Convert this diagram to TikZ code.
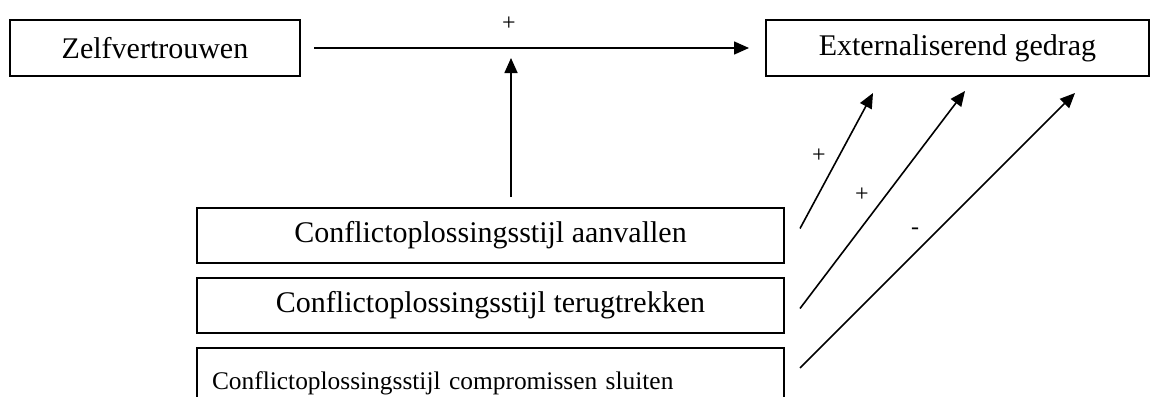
\documentclass[tikz,border=0pt]{standalone}
\usepackage{fontspec}
\setmainfont{Liberation Serif}
\usetikzlibrary{arrows.meta}
\newlength{\du}
\setlength{\du}{0.5pt}

\begin{document}
\begin{tikzpicture}[x=1\du,y=-1\du,
  blok/.style={draw, line width=2\du, inner sep=0pt, minimum height=55\du,
    font=\fontsize{15}{18}\selectfont},
  pijl/.style={line width=1.6\du, -{Triangle[length=7.5pt,width=6.5pt]}},
  teken/.style={inner sep=0pt, font=\fontsize{12}{14}\selectfont}]
\useasboundingbox (0,0) rectangle (1150,396);
\clip (0,0) rectangle (1150,396);
% bovenste rij
\node[blok, minimum width=290\du, minimum height=56\du] (zelf) at (155,48) {Zelfvertrouwen};
\node[blok, minimum width=383\du, minimum height=56\du] (ext) at (957.5,48) {Externaliserend gedrag};
% conflictstijlen
\node[blok, minimum width=587\du] (aanv) at (490.5,235.5) {Conflictoplossingsstijl aanvallen};
\node[blok, minimum width=587\du] (terug) at (490.5,305.5) {Conflictoplossingsstijl terugtrekken};
\node[blok, minimum width=587\du, minimum height=70\du, text width=557\du, inner xsep=15\du,
  align=left, font=\fontsize{12.7}{15}\selectfont] (comp) at (490.5,383)
  {Conflictoplossingsstijl compromissen sluiten};
% pijlen
\coordinate (knik) at (511,47);
\coordinate (doel1) at (873,93);
\coordinate (doel2) at (965,91);
\coordinate (doel3) at (1075,93);
\draw[pijl] ([xshift=6.5pt]zelf.east) -- ([xshift=-8pt]ext.west);
\draw[pijl, shorten <=5pt, shorten >=5.5pt] (aanv.north -| knik) -- (knik);
\draw[pijl] ([shift={(15,-7)}]aanv.east) -- (doel1);
\draw[pijl] ([shift={(15,3)}]terug.east) -- (doel2);
\draw[pijl] ([shift={(15,-15)}]comp.east) -- (doel3);
% tekens
\node[teken] (plus0) at (509,24) {+};
\node[teken] (plus1) at (819,156) {+};
\node[teken] (plus2) at (862,195) {+};
\node[teken] (min3) at (915,231) {-};
\end{tikzpicture}
\end{document}
